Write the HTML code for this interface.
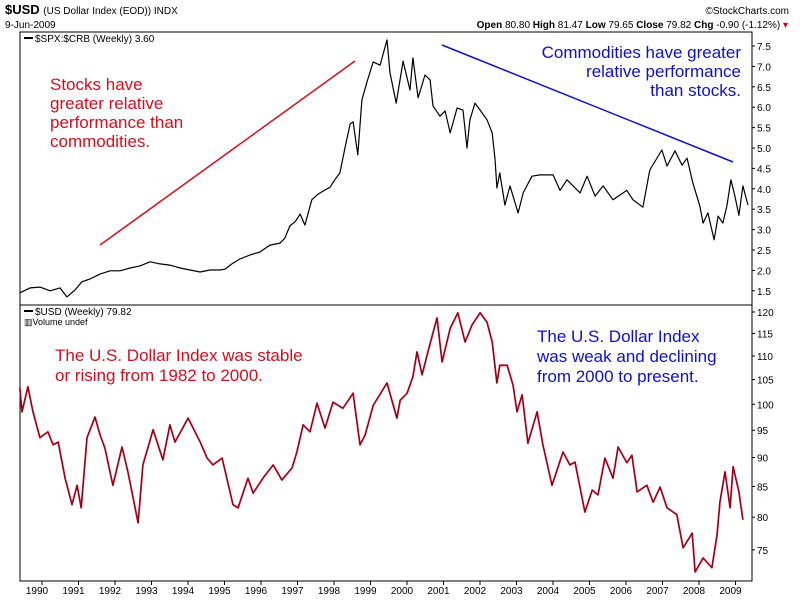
<!DOCTYPE html>
<html><head><meta charset="utf-8"><style>
body{margin:0;background:#fff;}
svg text{font-family:"Liberation Sans",sans-serif;}
</style></head><body>
<svg id="chart" width="800" height="600" viewBox="0 0 800 600" xmlns="http://www.w3.org/2000/svg">
<rect x="0" y="0" width="800" height="600" fill="#fff"/>
<g>
<text x="5" y="14" font-size="13" font-weight="bold">$USD <tspan font-size="10" font-weight="normal">(US Dollar Index (EOD)) INDX</tspan></text>
<text x="5" y="28" font-size="10">9-Jun-2009</text>
<text x="789" y="14" font-size="10" text-anchor="end">©StockCharts.com</text>
<text x="788" y="28" font-size="10" text-anchor="end"><tspan font-weight="bold">Open</tspan> 80.80 <tspan font-weight="bold">High</tspan> 81.47 <tspan font-weight="bold">Low</tspan> 79.65 <tspan font-weight="bold">Close</tspan> 79.82 <tspan font-weight="bold">Chg</tspan> -0.90 (-1.12%) <tspan fill="#c00020">▾</tspan></text>
</g>
<g id="frame">
<rect x="20" y="32" width="732" height="549" fill="none" stroke="#000" stroke-width="1"/>
<line x1="20" y1="305" x2="752" y2="305" stroke="#000"/>
</g>
<g id="axes"></g>
<g id="series"></g>
<g>
<line x1="100" y1="245" x2="355" y2="61" stroke="#d01020" stroke-width="1.5"/>
<line x1="442" y1="45" x2="733" y2="162" stroke="#1010c0" stroke-width="1.5"/>
<text font-size="17" fill="#d01020"><tspan x="50" y="90">Stocks have</tspan><tspan x="50" y="109">greater relative</tspan><tspan x="50" y="128">performance than</tspan><tspan x="50" y="147">commodities.</tspan></text>
<text font-size="17" fill="#1010c0" text-anchor="end"><tspan x="741" y="58">Commodities have  greater</tspan><tspan x="741" y="77">relative  performance</tspan><tspan x="741" y="96">than stocks.</tspan></text>
<text font-size="17" fill="#d01020"><tspan x="55" y="361">The U.S. Dollar Index was stable</tspan><tspan x="55" y="381">or rising from 1982 to 2000.</tspan></text>
<text font-size="17" fill="#1010c0"><tspan x="537" y="342">The U.S. Dollar Index</tspan><tspan x="537" y="362">was weak and declining</tspan><tspan x="537" y="382">from 2000 to present.</tspan></text>
</g>
<g>
<line x1="24" y1="38" x2="33" y2="38" stroke="#000" stroke-width="2"/>
<text x="35" y="42" font-size="10" font-family="Liberation Mono">$SPX:$CRB (Weekly) 3.60</text>
<line x1="24" y1="311" x2="33" y2="311" stroke="#000" stroke-width="2"/>
<text x="35" y="315" font-size="10" font-family="Liberation Mono">$USD (Weekly) 79.82</text>
<text x="24" y="325" font-size="9">▥Volume undef</text>
</g>
</svg>
<script>
const years = [1990,1991,1992,1993,1994,1995,1996,1997,1998,1999,2000,2001,2002,2003,2004,2005,2006,2007,2008,2009];
const ratioTicks = [7.5,7.0,6.5,6.0,5.5,5.0,4.5,4.0,3.5,3.0,2.5,2.0,1.5];
const usdTicks = [120,115,110,105,100,95,90,85,80,75];
const ratioDates = [1989.53,1989.81,1990.08,1990.36,1990.63,1990.82,1991.04,1991.23,1991.45,1991.73,1992.0,1992.27,1992.55,1992.82,1993.10,1993.37,1993.64,1993.92,1994.19,1994.47,1994.74,1995.01,1995.15,1995.34,1995.56,1995.84,1996.11,1996.38,1996.66,1996.79,1996.93,1997.07,1997.21,1997.34,1997.53,1997.70,1997.89,1998.03,1998.16,1998.30,1998.44,1998.58,1998.66,1998.79,1998.90,1999.04,1999.21,1999.40,1999.59,1999.67,1999.84,2000.03,2000.22,2000.30,2000.44,2000.63,2000.77,2000.85,2001.04,2001.18,2001.32,2001.51,2001.67,2001.78,2001.86,2002.0,2002.14,2002.33,2002.47,2002.55,2002.60,2002.68,2002.82,2002.96,2003.18,2003.32,2003.56,2003.78,2004.14,2004.33,2004.52,2004.88,2005.07,2005.29,2005.51,2005.78,2006.16,2006.33,2006.60,2006.79,2007.12,2007.26,2007.48,2007.67,2007.81,2007.97,2008.16,2008.25,2008.38,2008.55,2008.66,2008.79,2008.90,2009.01,2009.12,2009.23,2009.34,2009.48];
const ratioValues = [1.45,1.57,1.59,1.50,1.57,1.35,1.52,1.72,1.79,1.91,1.99,1.99,2.06,2.11,2.21,2.16,2.13,2.06,2.01,1.96,2.01,2.01,2.03,2.16,2.28,2.38,2.45,2.62,2.67,2.79,3.09,3.19,3.38,3.11,3.73,3.87,3.97,4.04,4.22,4.39,5.02,5.59,5.64,4.83,6.18,6.62,7.11,7.03,7.65,6.84,6.10,7.13,6.42,7.21,6.23,6.79,6.67,6.03,5.78,5.91,5.37,5.98,5.93,5.0,5.69,6.10,5.93,5.69,5.37,4.71,4.02,4.39,3.60,4.07,3.41,3.90,4.31,4.34,4.34,3.96,4.22,3.90,4.31,3.82,4.07,3.73,3.96,3.73,3.55,4.46,4.95,4.56,4.93,4.58,4.75,4.14,3.58,3.16,3.41,2.75,3.33,3.16,3.58,4.22,3.82,3.35,4.07,3.60];
const usdDates = [1989.53,1989.59,1989.75,1989.89,1990.08,1990.30,1990.44,1990.58,1990.77,1990.96,1991.10,1991.21,1991.37,1991.59,1991.73,1991.86,1992.08,1992.33,1992.49,1992.77,1992.90,1993.18,1993.45,1993.64,1993.78,1994.14,1994.47,1994.66,1994.82,1995.07,1995.37,1995.51,1995.78,1995.92,1996.19,1996.47,1996.71,1996.99,1997.12,1997.29,1997.48,1997.67,1997.89,1998.11,1998.38,1998.66,1998.85,1998.99,1999.21,1999.59,1999.86,1999.95,2000.14,2000.30,2000.41,2000.55,2000.71,2000.96,2001.10,2001.32,2001.53,2001.73,2001.92,2002.14,2002.33,2002.47,2002.60,2002.68,2002.88,2003.04,2003.15,2003.29,2003.45,2003.70,2003.86,2004.11,2004.41,2004.60,2004.74,2005.01,2005.21,2005.37,2005.56,2005.78,2005.92,2006.16,2006.30,2006.44,2006.71,2006.88,2007.07,2007.26,2007.53,2007.70,2007.95,2008.03,2008.25,2008.49,2008.63,2008.71,2008.85,2008.99,2009.07,2009.23,2009.34,2009.48];
const usdValues = [103.3,98.5,103.5,98.5,93.6,94.7,92.3,92.8,86.4,82.0,85.2,81.5,93.6,97.5,94.1,91.7,85.2,91.9,87.5,79.1,88.7,95.1,89.6,96.0,92.8,97.3,92.8,89.9,88.7,89.9,82.0,81.5,86.4,83.9,86.4,88.7,86.1,88.2,91.0,96.0,94.7,100.2,95.4,100.4,99.2,102.2,92.3,94.1,99.8,104.3,97.3,100.8,102.2,105.6,110.9,106.0,110.9,118.6,108.7,116.2,119.8,113.1,117.0,119.8,117.6,113.1,104.3,108.0,108.0,103.9,98.5,101.9,92.6,98.5,92.3,85.2,91.0,88.7,89.2,80.8,84.4,83.6,89.9,86.4,91.9,89.1,90.4,84.1,85.2,82.4,84.9,81.5,80.4,75.3,77.5,71.8,73.8,72.4,77.2,82.4,87.5,81.5,88.4,84.1,79.6];

const NS = 'http://www.w3.org/2000/svg';
function xOf(t){ return 37 + 36.5*(t-1990); }
function yRatio(v){ return 46 + (7.5 - v)*40.8; }
function yUsd(v){ return 312 + 506*Math.log(120/v); }
function mk(tag, attrs, parent){ const e=document.createElementNS(NS,tag); for(const k in attrs) e.setAttribute(k, attrs[k]); parent.appendChild(e); return e; }
const axes = document.getElementById('axes');
const series = document.getElementById('series');

years.forEach(function(yr){
  const x = xOf(yr) + 5;
  mk('line',{x1:x,y1:581,x2:x,y2:585,stroke:'#000'},axes);
  const t = mk('text',{x:xOf(yr),y:594,'font-size':'10','text-anchor':'middle'},axes);
  
  
  t.textContent = yr;
});
ratioTicks.forEach(function(v){
  const y = yRatio(v);
  mk('line',{x1:752,y1:y,x2:755,y2:y,stroke:'#000'},axes);
  const t = mk('text',{x:757,y:y+4,'font-size':'10'},axes);
  
  
  t.textContent = v.toFixed(1);
});
usdTicks.forEach(function(v){
  const y = yUsd(v);
  mk('line',{x1:752,y1:y,x2:755,y2:y,stroke:'#000'},axes);
  const t = mk('text',{x:757,y:y+4,'font-size':'10'},axes);
  
  
  t.textContent = v;
});
function pathD(dates, vals, yf){
  return dates.map(function(d,i){ return (i?'L':'M') + xOf(d).toFixed(1) + ',' + yf(vals[i]).toFixed(1); }).join(' ');
}
const rp = mk('path',{d:pathD(ratioDates, ratioValues, yRatio),fill:'none',stroke:'#000','stroke-width':'1.2','stroke-linejoin':'round'},series);


const up = mk('path',{d:pathD(usdDates, usdValues, yUsd),fill:'none',stroke:'#c8102e','stroke-width':'1.8','stroke-linejoin':'round'},series);


const up2 = mk('path',{d:pathD(usdDates, usdValues, yUsd),fill:'none',stroke:'#000','stroke-width':'0.5','stroke-linejoin':'round','stroke-opacity':'0.7'},series);


</script>
</body></html>
